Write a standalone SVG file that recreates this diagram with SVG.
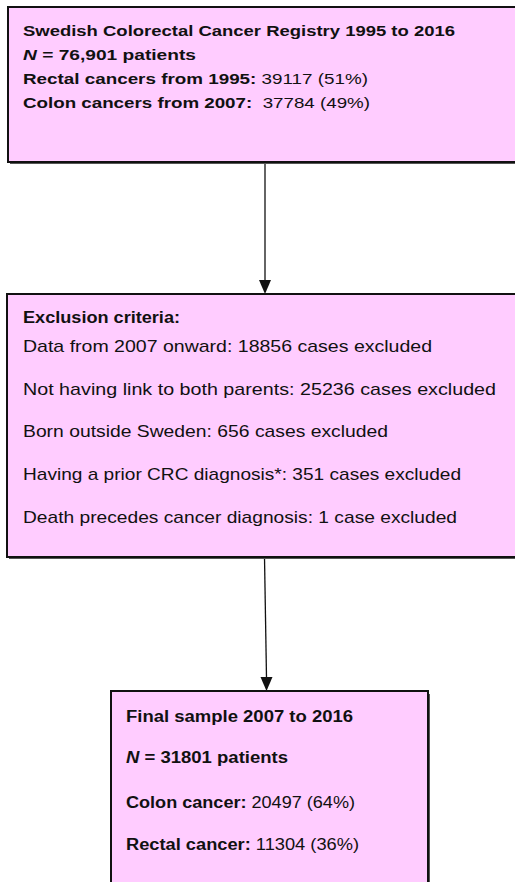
<svg xmlns="http://www.w3.org/2000/svg" width="515" height="882" viewBox="0 0 515 882">
<style>
.box{fill:#FFCCFF;stroke:#111;stroke-width:2}
.shadow{fill:#555}
.t{font-family:"Liberation Sans",Arial,sans-serif;fill:#111}
.s1{font-size:15px}
.s2{font-size:17px}
.s3{font-size:16px}
.b{font-weight:bold}
.i{font-style:italic}
.conn{stroke:#111;stroke-width:1.3;fill:none}
.head{fill:#111}
</style>
<g id="connectors">
<path class="conn" d="M265,162 L265,281"/>
<path class="head" d="M259,280 L271,280 L265,294 Z"/>
<path class="conn" d="M264.5,557 L266.5,678"/>
<path class="head" d="M260.5,677 L272.5,677 L266.5,691 Z"/>
</g>
<g id="node-registry">
<rect class="shadow" x="10" y="10" width="520" height="154"/>
<rect class="box" x="8" y="7" width="520" height="155"/>
<text class="t s1 b" x="23" y="36" textLength="432" lengthAdjust="spacingAndGlyphs">Swedish Colorectal Cancer Registry 1995 to 2016</text>
<text class="t s1 b" x="23" y="60" textLength="173" lengthAdjust="spacingAndGlyphs"><tspan class="i">N</tspan> = 76,901 patients</text>
<text class="t s1" x="23" y="84" textLength="345" lengthAdjust="spacingAndGlyphs"><tspan class="b">Rectal cancers from 1995:</tspan> 39117 (51%)</text>
<text class="t s1" x="23" y="108" textLength="347" lengthAdjust="spacingAndGlyphs" xml:space="preserve"><tspan class="b">Colon cancers from 2007:</tspan>  37784 (49%)</text>
</g>
<g id="node-exclusion">
<rect class="shadow" x="9" y="297" width="520" height="262"/>
<rect class="box" x="7" y="294" width="520" height="263"/>
<text class="t s2 b" x="23" y="323" textLength="157" lengthAdjust="spacingAndGlyphs">Exclusion criteria:</text>
<text class="t s2" x="23" y="352" textLength="409" lengthAdjust="spacingAndGlyphs">Data from 2007 onward: 18856 cases excluded</text>
<text class="t s2" x="23" y="395" textLength="473" lengthAdjust="spacingAndGlyphs">Not having link to both parents: 25236 cases excluded</text>
<text class="t s2" x="23" y="437" textLength="365" lengthAdjust="spacingAndGlyphs">Born outside Sweden: 656 cases excluded</text>
<text class="t s2" x="23" y="480" textLength="438" lengthAdjust="spacingAndGlyphs">Having a prior CRC diagnosis*: 351 cases excluded</text>
<text class="t s2" x="23" y="523" textLength="434" lengthAdjust="spacingAndGlyphs">Death precedes cancer diagnosis: 1 case excluded</text>
</g>
<g id="node-final">
<rect class="shadow" x="113" y="694" width="317" height="200"/>
<rect class="box" x="111" y="691" width="317" height="200"/>
<text class="t s3 b" x="126" y="722" textLength="227" lengthAdjust="spacingAndGlyphs">Final sample 2007 to 2016</text>
<text class="t s3 b" x="126" y="763" textLength="162" lengthAdjust="spacingAndGlyphs"><tspan class="i">N</tspan> = 31801 patients</text>
<text class="t s3" x="126" y="808" textLength="229" lengthAdjust="spacingAndGlyphs"><tspan class="b">Colon cancer:</tspan> 20497 (64%)</text>
<text class="t s3" x="126" y="850" textLength="233" lengthAdjust="spacingAndGlyphs"><tspan class="b">Rectal cancer:</tspan> 11304 (36%)</text>
</g>
</svg>
